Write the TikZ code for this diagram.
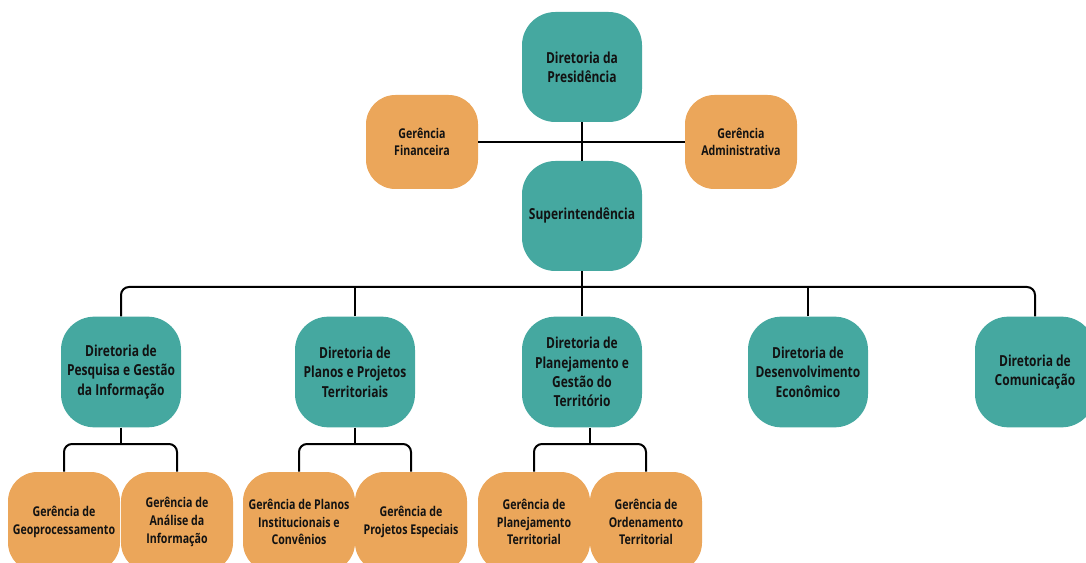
\documentclass[tikz,border=0pt]{standalone}
\usepackage{fontspec}
\setmainfont[FakeStretch=0.79]{Open Sans}
\usepackage{xcolor}
\usetikzlibrary{positioning,calc}
\definecolor{tealbox}{RGB}{69,168,160}
\definecolor{orangebox}{RGB}{235,166,90}
\definecolor{textdark}{RGB}{18,18,18}

\tikzset{
  dir/.style={fill=tealbox, rounded corners=25pt, minimum width=90pt, minimum height=82.5pt,
    inner sep=2pt, align=center, text=textdark, font=\bfseries\fontsize{11.4}{14.5}\selectfont},
  ger/.style={fill=orangebox, rounded corners=22pt, minimum width=84pt, minimum height=70.5pt,
    inner sep=1pt, align=center, text=textdark, font=\bfseries\fontsize{10.1}{13.2}\selectfont},
  link/.style={line width=1.5pt, rounded corners=6pt},
}

\begin{document}
\begin{tikzpicture}[x=0.75pt, y=-0.75pt]
    \useasboundingbox (0,0) rectangle (1086,563);
    \clip (0,0) rectangle (1086,563);

    % Top
    \node[dir] (pres) at (582,67) {Diretoria da\\Presidência};
    \node[dir] (sup) at (582,216) {Superintendência};
    \node[ger] (fin) at (422,142) {Gerência\\Financeira};
    \node[ger] (adm) at (741,142) {Gerência\\Administrativa};

    \draw[link] (pres) -- (sup);
    \draw[link] (fin) -- (adm);

    % Directors
    \coordinate (bus) at (582,287);
    \foreach \n/\x/\txt in {dpg/121/{Diretoria de\\Pesquisa e Gestão\\da Informação},
                            dpp/355/{Diretoria de\\Planos e Projetos\\Territoriais},
                            dpt/582/{Diretoria de\\Planejamento e\\Gestão do\\Território},
                            dde/808/{Diretoria de\\Desenvolvimento\\Econômico},
                            dco/1035/{Diretoria de\\Comunicação}}
        \node[dir, minimum height=83pt] (\n) at (\x,372) {\txt};

    \draw[link] (sup) -- (bus);
    \draw[link] (dpg.north) |- (bus) -| (dco.north);
    \foreach \n in {dpp, dpt, dde}
        \draw[link] (\n.north) -- (\n.north |- bus);

    % Managers
    \foreach \n/\x/\txt in {geo/64/{Gerência de\\Geoprocessamento},
                            ana/177/{Gerência de\\Análise da\\Informação},
                            pic/299/{Gerência de Planos\\Institucionais e\\Convênios},
                            pes/411/{Gerência de\\Projetos Especiais},
                            plt/534/{Gerência de\\Planejamento\\Territorial},
                            ord/646/{Gerência de\\Ordenamento\\Territorial}}
        \node[ger, minimum height=75pt] (\n) at (\x,522) {\txt};

    \coordinate (b1) at (121,444);
    \coordinate (b2) at (355,444);
    \coordinate (b3) at (590,444);
    \draw[link] (dpg) -- (b1);
    \draw[link] (dpp) -- (b2);
    \draw[link] (dpt.south -| b3) -- (b3);
    \draw[link] (geo.north) |- (b1) -| (ana.north);
    \draw[link] (pic.north) |- (b2) -| (pes.north);
    \draw[link] (plt.north) |- (b3) -| (ord.north);
\end{tikzpicture}
\end{document}
